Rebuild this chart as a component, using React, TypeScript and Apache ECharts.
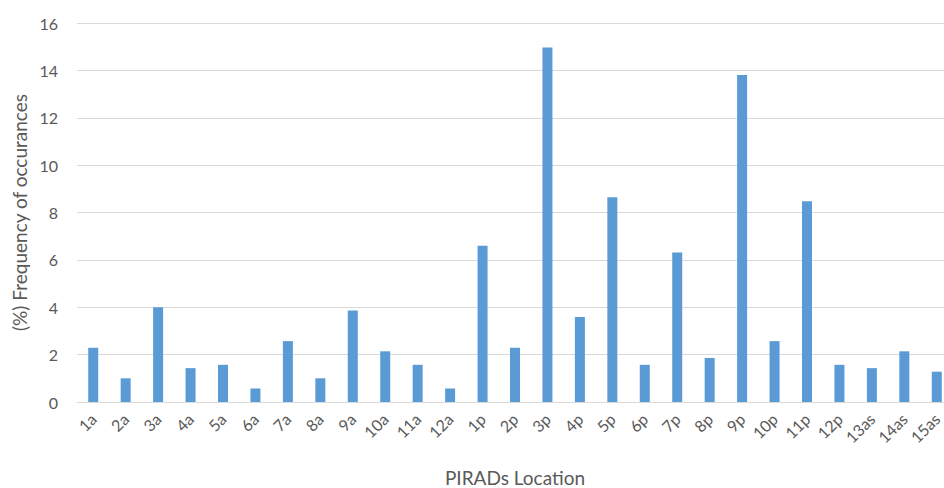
import React, { useEffect, useRef } from "react";
import * as echarts from "echarts";

const categories = [
  "1a", "2a", "3a", "4a", "5a", "6a", "7a", "8a", "9a", "10a", "11a", "12a",
  "1p", "2p", "3p", "4p", "5p", "6p", "7p", "8p", "9p", "10p", "11p", "12p",
  "13as", "14as", "15as",
];
const frequency = [
  2.29, 1.0, 4.0, 1.43, 1.57, 0.57, 2.57, 1.0, 3.86, 2.14, 1.57, 0.57,
  6.6, 2.29, 14.97, 3.59, 8.64, 1.57, 6.31, 1.86, 13.8, 2.57, 8.48, 1.57,
  1.43, 2.14, 1.28,
];
const yTicks = { min: 0, max: 16, interval: 2 };
const xAxisTitle = "PIRADs Location";
const yAxisTitle = "(%) Frequency of occurances";

const FONT = "Lato, 'Open Sans', sans-serif";
const TEXT = "#595959";

export default function App() {
  const ref = useRef<HTMLDivElement>(null);
  useEffect(() => {
    if (!ref.current) return;
    const chart = echarts.init(ref.current, null, { renderer: "svg" });
    chart.setOption({
      animation: false,
      backgroundColor: "#ffffff",
      textStyle: { fontFamily: FONT },
      grid: {
        left: 77,
        top: 23,
        bottom: 86,
        right: -9,
        containLabel: false,
        outerBoundsMode: "none",
      },
      xAxis: {
        type: "category",
        data: categories,
        name: xAxisTitle,
        nameLocation: "middle",
        nameGap: 65,
        nameTextStyle: { fontSize: 19, color: TEXT, fontFamily: FONT, lineHeight: 20 },
        axisLine: { lineStyle: { color: "#d9d9d9", width: 1 } },
        axisTick: { show: false },
        axisLabel: {
          rotate: 45,
          interval: 0,
          margin: 14,
          fontSize: 16,
          color: TEXT,
          fontFamily: FONT,
        },
      },
      yAxis: {
        type: "value",
        min: yTicks.min,
        max: yTicks.max,
        interval: yTicks.interval,
        name: yAxisTitle,
        nameLocation: "middle",
        nameGap: 48,
        nameTextStyle: { fontSize: 19, color: TEXT, fontFamily: FONT },
        axisLine: { show: false },
        axisTick: { show: false },
        axisLabel: { fontSize: 16, color: TEXT, margin: 19, fontFamily: FONT },
        splitLine: { lineStyle: { color: "#d9d9d9", width: 1 } },
      },
      series: [
        {
          type: "bar",
          data: frequency,
          barWidth: 10,
          itemStyle: { color: "#5b9bd5" },
        },
      ],
    });
    return () => chart.dispose();
  }, []);
  return (
    <div
      ref={ref}
      style={{ position: "fixed", left: 0, top: 0, width: 944, height: 488 }}
    />
  );
}
